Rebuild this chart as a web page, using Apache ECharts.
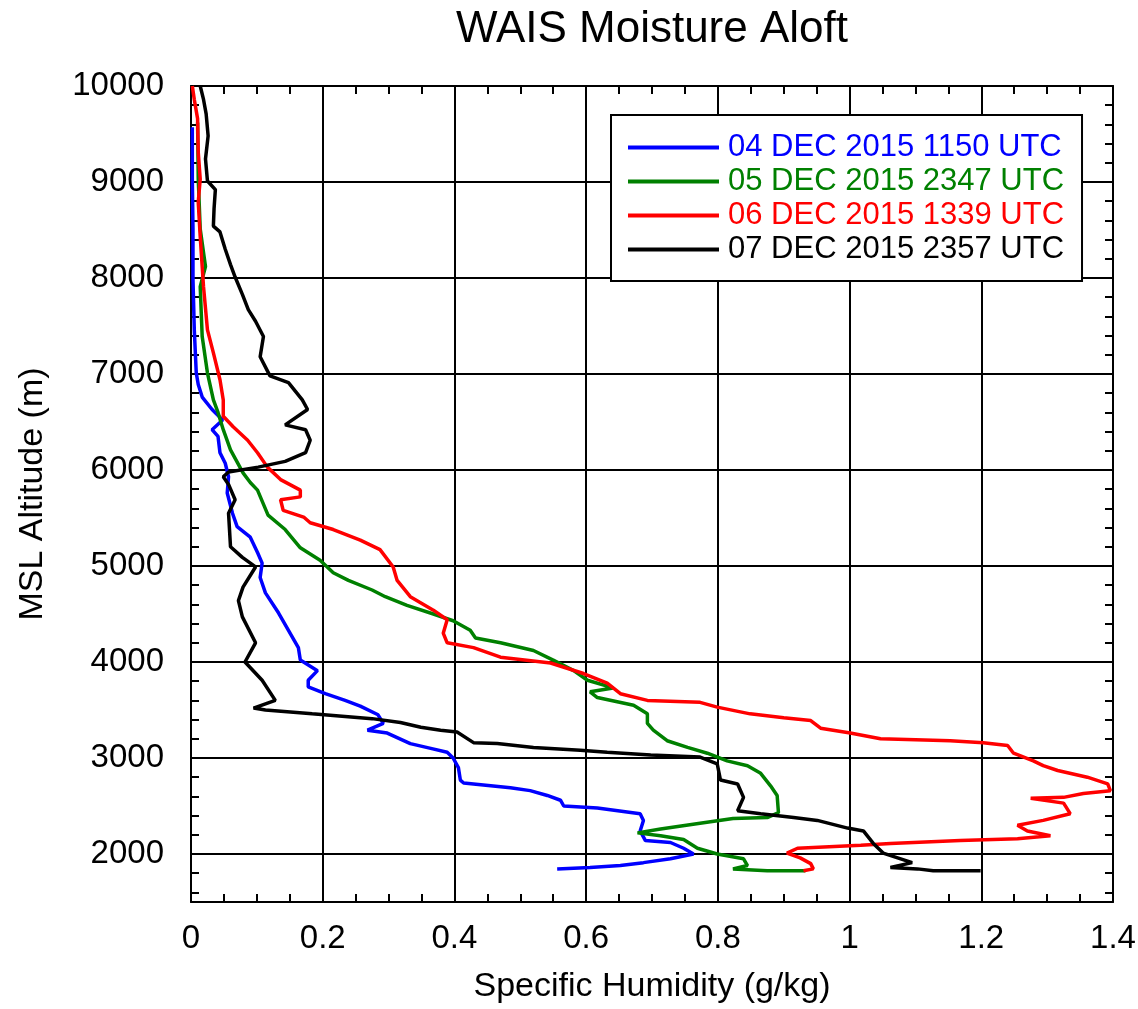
<!DOCTYPE html>
<html><head><meta charset="utf-8">
<script src="https://cdn.jsdelivr.net/npm/echarts@6/dist/echarts.min.js"></script>
<style>html,body{margin:0;padding:0;background:#fff}#c{width:1138px;height:1009px}</style>
</head><body><div id="c"></div>
<script>
// Specific humidity (g/kg), MSL altitude (m) pairs
const seriesNames = ['04 DEC 2015 1150 UTC','05 DEC 2015 2347 UTC','06 DEC 2015 1339 UTC','07 DEC 2015 2357 UTC'];
const seriesColors = ['#0000ff','#008000','#ff0000','#000000'];
const xTickLabels = [0,0.2,0.4,0.6,0.8,1,1.2,1.4];
const yTickLabels = [2000,3000,4000,5000,6000,7000,8000,9000,10000];

const dec04 = [[0.002,9570],[0.002,9030],[0.003,8510],[0.003,7990],[0.005,7460],[0.008,7010],[0.011,6890],[0.017,6760],[0.032,6630],[0.048,6520],[0.032,6420],[0.041,6350],[0.044,6180],[0.052,6070],[0.057,5930],[0.055,5760],[0.063,5550],[0.070,5410],[0.090,5300],[0.101,5140],[0.108,5030],[0.105,4880],[0.113,4720],[0.133,4510],[0.148,4330],[0.163,4150],[0.166,4020],[0.192,3910],[0.178,3810],[0.178,3740],[0.204,3670],[0.234,3600],[0.257,3540],[0.284,3450],[0.292,3360],[0.268,3290],[0.298,3260],[0.333,3150],[0.364,3100],[0.389,3060],[0.398,3000],[0.406,2900],[0.409,2770],[0.414,2740],[0.485,2690],[0.515,2660],[0.541,2610],[0.561,2560],[0.566,2500],[0.617,2480],[0.682,2420],[0.687,2350],[0.682,2240],[0.690,2140],[0.728,2120],[0.748,2060],[0.763,2000],[0.728,1950],[0.687,1910],[0.652,1880],[0.606,1860],[0.556,1845]];

const dec05 = [[0.010,9620],[0.011,9030],[0.014,8510],[0.022,8120],[0.014,7910],[0.017,7390],[0.025,7010],[0.034,6730],[0.041,6600],[0.049,6420],[0.060,6210],[0.079,5970],[0.090,5870],[0.101,5790],[0.117,5530],[0.143,5380],[0.166,5190],[0.196,5060],[0.216,4930],[0.239,4850],[0.275,4750],[0.295,4680],[0.328,4590],[0.368,4500],[0.398,4430],[0.424,4330],[0.432,4250],[0.470,4200],[0.520,4120],[0.550,4020],[0.581,3910],[0.602,3810],[0.641,3730],[0.606,3690],[0.617,3630],[0.672,3550],[0.693,3460],[0.693,3360],[0.702,3290],[0.723,3180],[0.754,3110],[0.784,3050],[0.814,2970],[0.845,2920],[0.865,2840],[0.880,2710],[0.890,2610],[0.892,2430],[0.875,2380],[0.823,2370],[0.773,2320],[0.713,2260],[0.678,2220],[0.713,2190],[0.748,2150],[0.769,2060],[0.799,2000],[0.839,1950],[0.845,1880],[0.823,1845],[0.875,1825],[0.933,1825]];

const dec06 = [[0.002,10000],[0.005,9860],[0.010,9660],[0.011,9310],[0.014,9030],[0.011,8790],[0.014,8430],[0.019,7910],[0.025,7460],[0.034,7220],[0.044,6940],[0.049,6730],[0.049,6560],[0.064,6450],[0.086,6310],[0.101,6180],[0.116,6030],[0.136,5900],[0.166,5790],[0.166,5720],[0.136,5690],[0.140,5580],[0.171,5510],[0.181,5450],[0.216,5380],[0.257,5270],[0.287,5170],[0.307,4990],[0.313,4850],[0.333,4680],[0.368,4540],[0.389,4440],[0.383,4300],[0.389,4200],[0.429,4150],[0.470,4050],[0.546,3990],[0.596,3880],[0.632,3780],[0.652,3670],[0.693,3600],[0.773,3580],[0.799,3530],[0.849,3460],[0.900,3420],[0.941,3390],[0.956,3310],[1.001,3260],[1.047,3200],[1.153,3180],[1.203,3160],[1.240,3130],[1.249,3050],[1.279,2970],[1.294,2920],[1.316,2870],[1.361,2800],[1.392,2730],[1.396,2660],[1.355,2630],[1.325,2590],[1.275,2580],[1.325,2530],[1.335,2420],[1.294,2350],[1.255,2300],[1.270,2240],[1.305,2190],[1.255,2160],[1.168,2140],[1.062,2110],[1.017,2090],[0.921,2060],[0.905,2010],[0.925,1960],[0.941,1900],[0.945,1845],[0.930,1825]];

const dec07 = [[0.014,10000],[0.019,9860],[0.023,9710],[0.026,9480],[0.022,9240],[0.025,9010],[0.037,8920],[0.035,8720],[0.034,8540],[0.044,8480],[0.052,8300],[0.060,8140],[0.067,8010],[0.078,7830],[0.087,7670],[0.098,7550],[0.110,7390],[0.105,7180],[0.117,7020],[0.120,6980],[0.148,6910],[0.169,6730],[0.177,6630],[0.143,6470],[0.174,6420],[0.181,6310],[0.174,6180],[0.143,6090],[0.102,6030],[0.057,5980],[0.049,5930],[0.057,5850],[0.067,5690],[0.057,5550],[0.060,5200],[0.078,5090],[0.098,4990],[0.079,4780],[0.072,4640],[0.078,4470],[0.098,4200],[0.082,4000],[0.108,3810],[0.128,3600],[0.095,3520],[0.113,3500],[0.184,3460],[0.275,3410],[0.318,3370],[0.349,3320],[0.379,3290],[0.404,3270],[0.429,3160],[0.465,3150],[0.520,3110],[0.591,3080],[0.632,3060],[0.698,3030],[0.773,3010],[0.799,2940],[0.804,2770],[0.830,2730],[0.839,2590],[0.830,2450],[0.865,2420],[0.915,2380],[0.951,2350],[0.997,2270],[1.021,2240],[1.036,2110],[1.051,2010],[1.073,1960],[1.095,1910],[1.062,1860],[1.103,1845],[1.127,1825],[1.199,1825]];

const seriesData = [dec04, dec05, dec06, dec07];

const FONT = "'Liberation Sans', Arial, Helvetica, sans-serif";
const black = '#000';
const chart = echarts.init(document.getElementById('c'), null, {renderer:'canvas'});

const tickAxisCommon = {
  type:'value', min:1500, max:10000, splitNumber:42,
  axisLine:{show:false}, axisLabel:{show:false}, splitLine:{show:false},
  axisTick:{show:true, inside:true, length:8, lineStyle:{color:black, width:2}}
};

chart.setOption({
  animation:false,
  backgroundColor:'#fff',
  textStyle:{fontFamily:FONT},
  title:{
    text:'WAIS Moisture Aloft', left:652, top:8, textAlign:'center', padding:0,
    textStyle:{fontSize:44, fontWeight:'normal', color:black, fontFamily:FONT}
  },
  grid:{left:191, right:25, top:86, bottom:107, containLabel:false, outerBoundsMode:'none'},
  legend:{
    left:611, top:115, orient:'vertical', icon:'rect', itemWidth:91, itemHeight:4, itemGap:3,
    padding:[17,18,16,17], borderColor:black, borderWidth:2, backgroundColor:'#fff',
    textStyle:{fontSize:31, lineHeight:30, fontFamily:FONT, padding:[0,0,0,4]},
    data: seriesNames.map((n,i)=>({name:n, textStyle:{color:seriesColors[i]}}))
  },
  xAxis:[
    {
      type:'value', position:'bottom', min:0, max:1.4, interval:0.2,
      name:'Specific Humidity (g/kg)', nameLocation:'middle', nameGap:68,
      nameTextStyle:{fontSize:34, color:black, fontFamily:FONT},
      axisLine:{show:true, onZero:false, lineStyle:{color:black, width:2}},
      axisTick:{show:true, inside:true, length:8, lineStyle:{color:black, width:2}},
      minorTick:{show:true, splitNumber:4, length:8, lineStyle:{color:black, width:2}},
      axisLabel:{fontSize:33, color:black, margin:20, fontFamily:FONT,
        formatter:v=>{const m = xTickLabels.find(t=>Math.abs(t-v)<1e-6); return m===undefined?'':String(m);}},
      splitLine:{show:true, lineStyle:{color:black, width:2}}
    },
    {
      type:'value', position:'top', min:0, max:1.4, interval:0.2,
      axisLine:{show:true, onZero:false, lineStyle:{color:black, width:2}},
      axisTick:{show:true, inside:true, length:8, lineStyle:{color:black, width:2}},
      minorTick:{show:true, splitNumber:4, length:8, lineStyle:{color:black, width:2}},
      axisLabel:{show:false}, splitLine:{show:false}
    }
  ],
  yAxis:[
    {
      type:'value', position:'left', min:1500, max:10000, splitNumber:8,
      name:'MSL Altitude (m)', nameLocation:'middle', nameGap:141,
      nameTextStyle:{fontSize:34, color:black, fontFamily:FONT},
      axisLine:{show:true, onZero:false, lineStyle:{color:black, width:2}},
      axisTick:{show:false},
      axisLabel:{fontSize:33, color:black, margin:27, showMinLabel:false, padding:[0,0,10,0], fontFamily:FONT,
        formatter:v=>yTickLabels.includes(v)?String(v):''},
      splitLine:{show:true, lineStyle:{color:black, width:2}}
    },
    Object.assign({position:'left'}, tickAxisCommon),
    Object.assign({}, tickAxisCommon, {position:'right', axisLine:{show:true, onZero:false, lineStyle:{color:black, width:2}}})
  ],
  series: seriesData.map((d,i)=>({
    name:seriesNames[i], type:'line', xAxisIndex:0, yAxisIndex:0,
    data:d, symbol:'none', showSymbol:false, clip:true,
    lineStyle:{color:seriesColors[i], width:3.5}, itemStyle:{color:seriesColors[i]},
    z:2+i
  }))
});
</script></body></html>
